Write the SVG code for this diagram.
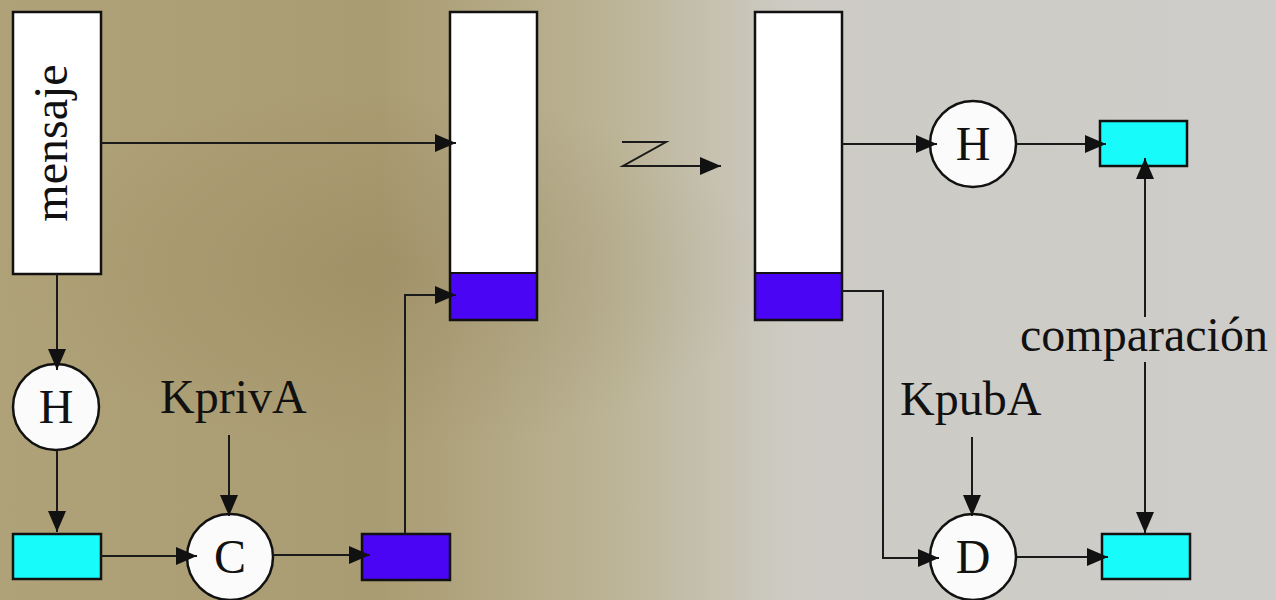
<svg xmlns="http://www.w3.org/2000/svg" width="1276" height="600" viewBox="0 0 1276 600">
<defs>
<linearGradient id="bg" x1="0" y1="0" x2="1" y2="0">
<stop offset="0" stop-color="#b0a278"/>
<stop offset="0.3" stop-color="#aa9c72"/>
<stop offset="0.48" stop-color="#bcb496"/>
<stop offset="0.62" stop-color="#cdcbc4"/>
<stop offset="1" stop-color="#cecdca"/>
</linearGradient>
<radialGradient id="spot" cx="0.3" cy="0.45" r="0.3">
<stop offset="0" stop-color="#8a7850" stop-opacity="0.3"/>
<stop offset="1" stop-color="#8a7850" stop-opacity="0"/>
</radialGradient>
<marker id="arr" viewBox="0 0 21 18" markerWidth="21" markerHeight="18" refX="21" refY="9" orient="auto" markerUnits="userSpaceOnUse">
<path d="M0,0 L21,9 L0,18 z" fill="#111"/>
</marker>
<style>
.box{stroke:#111;stroke-width:2.5}
.white{fill:#fff}
.cyan{fill:#18fbfb}
.blue{fill:#4a05f5}
.circ{fill:#fbfbfb;stroke:#111;stroke-width:2.5}
.lbl{font-family:"Liberation Serif","Times New Roman",serif;font-size:48px;fill:#111}
.ctr{text-anchor:middle}
.con{fill:none;stroke:#1a1a1a;stroke-width:2;marker-end:url(#arr)}
</style>
</defs>
<rect x="0" y="0" width="1276" height="600" fill="url(#bg)"/>
<rect x="0" y="0" width="1276" height="600" fill="url(#spot)"/>

<g id="mensaje">
<rect class="box white" x="13" y="12" width="88" height="262"/>
<text class="lbl ctr" transform="translate(67,143) rotate(-90)" x="0" y="0">mensaje</text>
</g>
<g id="paquete-emisor">
<rect class="white" x="450" y="12" width="87" height="261"/>
<rect class="blue" x="450" y="273" width="87" height="47"/>
<rect class="box" fill="none" x="450" y="12" width="87" height="308"/>
<line x1="450" y1="273" x2="537" y2="273" stroke="#111" stroke-width="2"/>
</g>
<g id="paquete-receptor">
<rect class="white" x="755" y="12" width="87" height="261"/>
<rect class="blue" x="755" y="273" width="87" height="47"/>
<rect class="box" fill="none" x="755" y="12" width="87" height="308"/>
<line x1="755" y1="273" x2="842" y2="273" stroke="#111" stroke-width="2"/>
</g>
<g id="hash1">
<circle class="circ" cx="56" cy="407" r="43"/>
<text class="lbl ctr" x="56" y="423">H</text>
</g>
<g id="resumen1">
<rect class="box cyan" x="13" y="534" width="88" height="45"/>
</g>
<g id="cifrar">
<circle class="circ" cx="230" cy="557" r="43"/>
<text class="lbl ctr" x="230" y="573">C</text>
</g>
<g id="kpriva">
<text class="lbl" x="160" y="413">KprivA</text>
</g>
<g id="firma">
<rect class="box blue" x="362" y="534" width="88" height="46"/>
</g>
<g id="hash2">
<circle class="circ" cx="973" cy="144" r="43"/>
<text class="lbl ctr" x="973" y="160">H</text>
</g>
<g id="resumen2">
<rect class="box cyan" x="1100" y="121" width="87" height="45"/>
</g>
<g id="descifrar">
<circle class="circ" cx="973" cy="557" r="43"/>
<text class="lbl ctr" x="973" y="573">D</text>
</g>
<g id="kpuba">
<text class="lbl" x="900" y="415">KpubA</text>
</g>
<g id="resumen3">
<rect class="box cyan" x="1102" y="534" width="88" height="45"/>
</g>
<g id="comparacion">
<text class="lbl" x="1020" y="351">comparación</text>
</g>

<g id="connectors">
<path class="con" d="M101,143 H456"/>
<path class="con" d="M57,274 V370"/>
<path class="con" d="M57,450 V532"/>
<path class="con" d="M101,556 H197"/>
<path class="con" d="M229,435 V516"/>
<path class="con" d="M273,555 H370"/>
<path class="con" d="M405,534 V295 H456"/>
<path class="con" d="M622,142 H666 L623,166 H721"/>
<path class="con" d="M842,144 H937"/>
<path class="con" d="M1016,144 H1106"/>
<path class="con" d="M842,291 H883 V558 H939"/>
<path class="con" d="M972,437 V516"/>
<path class="con" d="M1017,557 H1108"/>
<path class="con" d="M1145,317 V158"/>
<path class="con" d="M1145,362 V533"/>
</g>
</svg>
